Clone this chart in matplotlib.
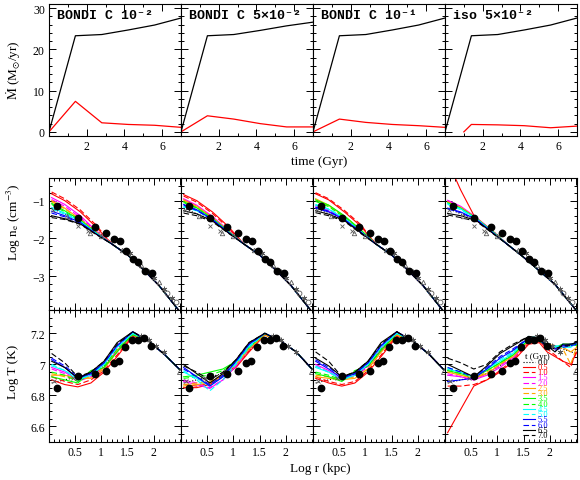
import matplotlib

matplotlib.use("Agg")

import matplotlib.pyplot as plt
from matplotlib.ticker import MultipleLocator

plt.rcParams["font.family"] = ["Liberation Serif", "DejaVu Serif"]
plt.rcParams["mathtext.fontset"] = "stix"

# ---------------------------------------------------------------- data
PANEL_TITLES = ["BONDI C 10⁻²", "BONDI C 5×10⁻²", "BONDI C 10⁻¹", "iso 5×10⁻²"]
SNAP_TIMES = ["0.0", "0.5", "1.0", "1.5", "2.0", "2.5", "3.0", "3.5",
              "4.0", "4.5", "5.0", "5.5", "6.0", "6.5", "7.0"]

# accretion rates (Msun/yr)
MDOT_TIME = [0.0, 1.4, 2.8, 4.2, 5.6, 7.0]
MDOT_TOTAL = [
    [0.0, 23.3, 23.6, 24.7, 25.9, 27.6],
    [0.0, 23.3, 23.6, 24.6, 25.7, 26.6],
    [0.0, 23.3, 23.6, 24.7, 25.9, 27.6],
    [0.0, 23.3, 23.6, 24.7, 25.9, 27.6],
]
MDOT_RED_TIME = [
    [0.0, 1.4, 2.8, 4.2, 5.6, 7.0],
    [0.0, 1.4, 2.8, 4.2, 5.6, 7.0],
    [0.0, 1.4, 2.8, 4.2, 5.6, 7.0],
    [1.0, 1.4, 2.8, 4.2, 5.6, 7.0],
]
MDOT_RED = [
    [0.0, 7.4, 2.2, 1.8, 1.6, 1.1],
    [0.0, 3.9, 3.1, 2.0, 1.2, 1.2],
    [0.0, 3.1, 2.3, 1.8, 1.5, 1.1],
    [0.0, 1.8, 1.7, 1.5, 1.0, 1.4],
]

# density profiles: per-snapshot inner part + common outer part
NE_R_INNER = [0.05, 0.3, 0.6, 0.9]
NE_R_TAIL = [1.2, 1.5, 1.8, 2.1, 2.5]
NE_TAIL = [
    [-2.15, -2.44, -2.83, -3.25, -3.95],
    [-2.15, -2.44, -2.83, -3.25, -3.95],
    [-2.15, -2.44, -2.83, -3.25, -3.95],
    [-2.17, -2.50, -2.86, -3.22, -3.90],
]
NE_INITIAL = [-1.20, -1.35, -1.50, -1.78]
NE_INNER_P1 = [
    [-0.82, -1.00, -1.30, -1.70],
    [-0.77, -0.95, -1.25, -1.65],
    [-0.92, -1.10, -1.40, -1.80],
    [-0.97, -1.15, -1.45, -1.82],
    [-1.00, -1.20, -1.50, -1.83],
    [-1.03, -1.22, -1.50, -1.84],
    [-1.07, -1.27, -1.52, -1.85],
    [-1.10, -1.30, -1.55, -1.86],
    [-1.18, -1.33, -1.55, -1.86],
    [-1.22, -1.36, -1.57, -1.87],
    [-1.28, -1.40, -1.58, -1.88],
    [-1.33, -1.43, -1.60, -1.88],
    [-1.40, -1.48, -1.62, -1.89],
    [-1.45, -1.50, -1.63, -1.90],
]
NE_INNER_P2 = [
    [-0.84, -1.00, -1.30, -1.68],
    [-0.88, -1.04, -1.34, -1.72],
    [-0.95, -1.12, -1.42, -1.78],
    [-0.97, -1.14, -1.44, -1.79],
    [-0.98, -1.15, -1.45, -1.80],
    [-1.00, -1.17, -1.46, -1.80],
    [-1.03, -1.19, -1.47, -1.81],
    [-1.05, -1.20, -1.48, -1.82],
    [-1.17, -1.27, -1.50, -1.83],
    [-1.15, -1.26, -1.50, -1.83],
    [-1.10, -1.24, -1.50, -1.84],
    [-1.12, -1.26, -1.51, -1.84],
    [-1.27, -1.35, -1.54, -1.85],
    [-1.33, -1.40, -1.56, -1.86],
]
NE_INNER_P3 = [
    [-0.82, -0.98, -1.30, -1.66],
    [-0.79, -0.95, -1.26, -1.62],
    [-1.17, -1.28, -1.48, -1.80],
    [-1.12, -1.25, -1.47, -1.80],
    [-0.95, -1.12, -1.42, -1.77],
    [-0.98, -1.14, -1.44, -1.78],
    [-0.98, -1.12, -1.40, -1.76],
    [-1.02, -1.16, -1.44, -1.79],
    [-1.12, -1.23, -1.47, -1.81],
    [-1.10, -1.22, -1.46, -1.81],
    [-1.20, -1.30, -1.50, -1.83],
    [-1.17, -1.28, -1.50, -1.82],
    [-1.27, -1.36, -1.53, -1.84],
    [-1.32, -1.40, -1.55, -1.86],
]
NE_INNER_P4 = [
    [0.05, -0.72, -1.52, -1.82],
    [-1.02, -1.20, -1.47, -1.80],
    [-0.99, -1.15, -1.45, -1.79],
    [-1.00, -1.17, -1.46, -1.80],
    [-1.03, -1.18, -1.46, -1.80],
    [-1.05, -1.20, -1.47, -1.81],
    [-1.06, -1.20, -1.47, -1.81],
    [-1.07, -1.21, -1.48, -1.82],
    [-1.08, -1.22, -1.48, -1.82],
    [-1.10, -1.24, -1.49, -1.83],
    [-1.20, -1.30, -1.50, -1.84],
    [-1.22, -1.32, -1.51, -1.84],
    [-1.34, -1.40, -1.53, -1.85],
    [-1.38, -1.45, -1.55, -1.86],
]
NE_INNER = [NE_INNER_P1, NE_INNER_P2, NE_INNER_P3, NE_INNER_P4]

# temperature profiles
T_R_INNER = [0.05, 0.3, 0.55, 0.8, 1.05, 1.3, 1.6]
T_R_TAIL = [1.9, 2.2, 2.5]
T_TAIL = [
    [7.15, 7.065, 6.965],
    [7.15, 7.08, 6.97],
    [7.15, 7.07, 6.965],
]
T_INITIAL = [6.88, 6.90, 6.92, 6.94, 6.99, 7.09, 7.19]
T_INNER_P1 = [
    [6.90, 6.87, 6.855, 6.88, 6.95, 7.05, 7.18],
    [6.92, 6.89, 6.87, 6.90, 6.96, 7.06, 7.19],
    [6.98, 6.95, 6.90, 6.93, 6.98, 7.09, 7.20],
    [6.97, 6.94, 6.89, 6.92, 6.97, 7.08, 7.19],
    [6.93, 6.93, 6.91, 6.91, 6.97, 7.08, 7.19],
    [6.94, 6.92, 6.90, 6.92, 6.98, 7.09, 7.20],
    [6.92, 6.90, 6.88, 6.95, 6.98, 7.08, 7.20],
    [6.95, 6.93, 6.89, 6.96, 6.99, 7.10, 7.19],
    [6.99, 6.96, 6.90, 6.93, 7.00, 7.11, 7.20],
    [7.00, 6.96, 6.91, 6.93, 7.00, 7.11, 7.20],
    [7.03, 6.98, 6.91, 6.94, 7.01, 7.12, 7.21],
    [7.04, 6.99, 6.92, 6.94, 7.01, 7.12, 7.21],
    [7.02, 6.98, 6.91, 6.95, 7.02, 7.14, 7.21],
    [7.07, 7.01, 6.92, 6.95, 7.02, 7.13, 7.21],
]
T_INNER_P2 = [
    [6.85, 6.85, 6.87, 6.92, 6.98, 7.08, 7.19],
    [6.87, 6.86, 6.88, 6.93, 6.99, 7.09, 7.19],
    [6.89, 6.87, 6.845, 6.90, 6.99, 7.10, 7.20],
    [6.90, 6.88, 6.85, 6.90, 6.99, 7.10, 7.20],
    [6.86, 6.87, 6.88, 6.93, 7.00, 7.10, 7.19],
    [6.87, 6.88, 6.89, 6.93, 7.00, 7.10, 7.19],
    [6.92, 6.93, 6.95, 6.97, 7.02, 7.11, 7.20],
    [6.91, 6.92, 6.93, 6.96, 7.01, 7.11, 7.20],
    [6.95, 6.91, 6.86, 6.92, 7.01, 7.12, 7.20],
    [6.96, 6.90, 6.83, 6.90, 7.00, 7.11, 7.20],
    [6.98, 6.92, 6.86, 6.92, 7.02, 7.13, 7.20],
    [6.97, 6.92, 6.87, 6.93, 7.02, 7.13, 7.20],
    [7.00, 6.94, 6.88, 6.94, 7.03, 7.14, 7.20],
    [6.99, 6.95, 6.90, 6.95, 7.03, 7.14, 7.20],
]
T_INNER_P3 = [
    [6.91, 6.88, 6.86, 6.88, 6.95, 7.05, 7.18],
    [6.92, 6.89, 6.87, 6.89, 6.96, 7.06, 7.19],
    [7.00, 6.96, 6.90, 6.93, 6.99, 7.10, 7.20],
    [6.99, 6.95, 6.90, 6.93, 6.98, 7.09, 7.20],
    [6.92, 6.91, 6.90, 6.91, 6.97, 7.08, 7.19],
    [6.93, 6.92, 6.90, 6.92, 6.97, 7.08, 7.19],
    [6.94, 6.92, 6.89, 6.95, 6.99, 7.09, 7.20],
    [6.95, 6.93, 6.90, 6.96, 6.99, 7.10, 7.20],
    [6.98, 6.95, 6.90, 6.93, 7.00, 7.11, 7.20],
    [6.99, 6.95, 6.91, 6.93, 7.00, 7.11, 7.20],
    [7.02, 6.97, 6.91, 6.94, 7.01, 7.12, 7.21],
    [7.03, 6.98, 6.92, 6.94, 7.01, 7.12, 7.21],
    [7.04, 6.99, 6.92, 6.95, 7.02, 7.14, 7.21],
    [7.08, 7.02, 6.92, 6.95, 7.02, 7.13, 7.21],
]
T_INNER = [T_INNER_P1, T_INNER_P2, T_INNER_P3]

# iso run: full temperature profiles (noisy outskirts)
T_R_ISO = [0.05, 0.3, 0.55, 0.8, 1.05, 1.3, 1.6, 1.8, 1.95, 2.1, 2.25, 2.4, 2.52]
T_INITIAL_ISO = [6.88, 6.90, 6.92, 6.94, 6.99, 7.09, 7.17, 7.16, 7.14, 7.12, 7.10, 7.08, 7.07]
T_ISO = [
    [6.56, 6.71, 6.86, 6.90, 6.95, 7.02, 7.13, 7.14, 7.08, 7.05, 7.02, 7.00, 7.08],
    [6.86, 6.86, 6.87, 6.90, 6.96, 7.03, 7.14, 7.15, 7.10, 7.06, 7.02, 6.98, 7.10],
    [6.93, 6.92, 6.90, 6.93, 6.98, 7.04, 7.15, 7.16, 7.11, 7.10, 7.13, 7.12, 7.13],
    [6.94, 6.92, 6.90, 6.94, 6.99, 7.05, 7.15, 7.15, 7.12, 7.11, 7.12, 7.13, 7.12],
    [6.95, 6.93, 6.91, 6.94, 7.00, 7.05, 7.15, 7.16, 7.12, 7.10, 7.11, 7.08, 7.11],
    [6.96, 6.93, 6.91, 6.95, 7.00, 7.06, 7.16, 7.16, 7.13, 7.12, 7.10, 7.00, 7.12],
    [6.96, 6.94, 6.92, 6.96, 7.01, 7.06, 7.16, 7.15, 7.12, 7.11, 7.13, 7.13, 7.12],
    [6.97, 6.94, 6.92, 6.96, 7.01, 7.07, 7.16, 7.16, 7.13, 7.10, 7.12, 7.12, 7.13],
    [6.97, 6.95, 6.92, 6.97, 7.02, 7.07, 7.17, 7.17, 7.12, 7.12, 7.11, 7.11, 7.14],
    [6.98, 6.95, 6.92, 6.97, 7.03, 7.08, 7.18, 7.17, 7.12, 7.11, 7.13, 7.12, 7.13],
    [6.89, 6.90, 6.91, 6.97, 7.04, 7.09, 7.17, 7.16, 7.11, 7.10, 7.12, 7.13, 7.14],
    [6.98, 6.95, 6.92, 6.98, 7.05, 7.10, 7.17, 7.16, 7.12, 7.09, 7.11, 7.12, 7.13],
    [7.00, 6.96, 6.92, 6.99, 7.07, 7.12, 7.18, 7.17, 7.12, 7.08, 7.13, 7.13, 7.14],
    [7.04, 7.01, 6.97, 7.00, 7.08, 7.13, 7.18, 7.16, 7.11, 7.10, 7.12, 7.12, 7.15],
]

# observed profiles
NE_OBS_R = [0.15, 0.56, 0.87, 1.09, 1.24, 1.35, 1.47, 1.60, 1.70, 1.83, 1.96]
NE_OBS = [-1.14, -1.46, -1.70, -1.86, -2.01, -2.08, -2.33, -2.55, -2.64, -2.86, -2.92]
NE_CROSS_R = [0.08, 0.55, 0.75]
NE_CROSS = [-1.25, -1.68, -1.80]
NE_TRI_R = [0.35, 0.78, 1.00, 1.40, 1.75, 2.10]
NE_TRI = [-1.42, -1.85, -1.93, -2.30, -2.72, -3.15]
NE_STAR_R = [1.55, 1.90, 2.00, 2.20, 2.35]
NE_STAR = [-2.40, -2.90, -3.05, -3.35, -3.58]
NE_OPEN_R = [2.25, 2.42]
NE_OPEN = [-3.45, -3.70]

T_OBS_R = [0.16, 0.56, 0.87, 1.08, 1.24, 1.33, 1.46, 1.59, 1.70, 1.82, 1.95]
T_OBS = [6.85, 6.925, 6.94, 6.96, 7.01, 7.02, 7.11, 7.16, 7.16, 7.17, 7.12]
T_CROSS_R = [0.10, 0.45, 0.90]
T_CROSS = [6.89, 6.91, 6.95]
T_STAR_R = [1.45, 1.60, 1.75, 1.90, 2.05, 2.20]
T_STAR = [7.12, 7.16, 7.18, 7.16, 7.12, 7.08]
T_TRI_R = [2.50]
T_TRI = [6.955]

# ---------------------------------------------------------------- styles
CURVE_COLORS = ["#ff0000", "#ff0000", "#ff00ff", "#ff00ff", "#ffa500", "#ffa500",
                "#00ff00", "#00ff00", "#00ffff", "#00ffff", "#0000ff", "#0000ff",
                "#000000", "#000000"]
CURVE_DASHED = [False, True] * 7

FIG_W, FIG_H = 580, 481
LEFT_PX, PANEL_W = 49, 132
ROW_TOP_PX = [5, 179, 311]
PANEL_H = 132


def panel_axes(figure, row, col):
    left = (LEFT_PX + col * PANEL_W) / FIG_W
    bottom = 1 - (ROW_TOP_PX[row] + PANEL_H) / FIG_H
    return figure.add_axes([left, bottom, PANEL_W / FIG_W, PANEL_H / FIG_H])


def style_axis(axis, show_left):
    axis.tick_params(which="both", direction="in", top=True, right=True,
                     labelsize=8.5, width=0.7, pad=3)
    axis.tick_params(which="major", length=5)
    axis.tick_params(which="minor", length=2.5)
    axis.tick_params(labelleft=show_left)
    for spine in axis.spines.values():
        spine.set_linewidth(0.8)


def draw_curve(axis, r, values, index):
    axis.plot(r, values, color=CURVE_COLORS[index], lw=0.8,
              ls=(0, (5, 2.5)) if CURVE_DASHED[index] else "-")


def draw_obs(axis, ne_panel):
    if ne_panel:
        sets = [(NE_CROSS_R, NE_CROSS, "x", 3.0), (NE_TRI_R, NE_TRI, "^", 3.2),
                (NE_STAR_R, NE_STAR, (6, 2, 0), 4.0), (NE_OPEN_R, NE_OPEN, "o", 3.5)]
        obs = (NE_OBS_R, NE_OBS)
    else:
        sets = [(T_CROSS_R, T_CROSS, "x", 3.0), (T_STAR_R, T_STAR, (6, 2, 0), 4.0),
                (T_TRI_R, T_TRI, "^", 4.0)]
        obs = (T_OBS_R, T_OBS)
    for r, v, marker, size in sets:
        axis.plot(r, v, ls="none", marker=marker, ms=size, mfc="none",
                  mec="0.35", mew=0.6)
    axis.plot(*obs, ls="none", marker="o", ms=4.6, color="black")


figure = plt.figure(figsize=(FIG_W / 100, FIG_H / 100), dpi=100)

for col in range(4):
    # accretion rate
    axis = panel_axes(figure, 0, col)
    axis.plot(MDOT_TIME, MDOT_TOTAL[col], color="black", lw=0.9)
    axis.plot(MDOT_RED_TIME[col], MDOT_RED[col], color="#ff0000", lw=0.9)
    axis.set_xlim(0, 7)
    axis.set_ylim(-1, 31)
    axis.set_xticks([2, 4, 6])
    axis.set_yticks([0, 10, 20, 30])
    axis.xaxis.set_minor_locator(MultipleLocator(1))
    axis.yaxis.set_minor_locator(MultipleLocator(2))
    style_axis(axis, col == 0)
    axis.text(0.06, 0.915, PANEL_TITLES[col], transform=axis.transAxes,
              family=["Liberation Mono", "DejaVu Sans Mono"], fontsize=9.5,
              fontweight="bold", va="center", ha="left")

    # density
    axis = panel_axes(figure, 1, col)
    axis.plot(NE_R_INNER + NE_R_TAIL, NE_INITIAL + NE_TAIL[col],
              color="black", lw=0.8, ls=":")
    for index, inner in enumerate(NE_INNER[col]):
        draw_curve(axis, NE_R_INNER + NE_R_TAIL, inner + NE_TAIL[col], index)
    draw_obs(axis, True)
    axis.set_xlim(0, 2.52)
    axis.set_ylim(-3.9, -0.4)
    axis.set_yticks([-3, -2, -1])
    axis.set_yticklabels(["\u22123", "\u22122", "\u22121"])
    axis.xaxis.set_major_locator(MultipleLocator(0.5))
    axis.xaxis.set_minor_locator(MultipleLocator(0.1))
    axis.yaxis.set_minor_locator(MultipleLocator(0.2))
    style_axis(axis, col == 0)
    axis.tick_params(labelbottom=False)

    # temperature
    axis = panel_axes(figure, 2, col)
    if col < 3:
        axis.plot(T_R_INNER + T_R_TAIL, T_INITIAL + T_TAIL[col],
                  color="black", lw=0.8, ls=":")
        for index, inner in enumerate(T_INNER[col]):
            draw_curve(axis, T_R_INNER + T_R_TAIL, inner + T_TAIL[col], index)
    else:
        axis.plot(T_R_ISO, T_INITIAL_ISO, color="black", lw=0.8, ls=":")
        for index, values in enumerate(T_ISO):
            draw_curve(axis, T_R_ISO, values, index)
    draw_obs(axis, False)
    axis.set_xlim(0, 2.52)
    axis.set_ylim(6.5, 7.35)
    axis.set_xticks([0.5, 1, 1.5, 2])
    axis.set_xticklabels(["0.5", "1", "1.5", "2"])
    axis.set_yticks([6.6, 6.8, 7.0, 7.2])
    axis.set_yticklabels(["6.6", "6.8", "7", "7.2"])
    axis.xaxis.set_minor_locator(MultipleLocator(0.1))
    axis.yaxis.set_minor_locator(MultipleLocator(0.05))
    style_axis(axis, col == 0)

    if col == 3:
        # snapshot key
        axis.text(0.70, 0.65, "t (Gyr)", transform=axis.transAxes,
                  fontsize=6.5, ha="center", va="center")
        step = 0.0397
        for index, label in enumerate(SNAP_TIMES):
            y = 0.608 - index * step
            if index == 0:
                color, ls = "black", ":"
            else:
                color = CURVE_COLORS[index - 1]
                ls = (0, (5, 2.5)) if CURVE_DASHED[index - 1] else "-"
            axis.plot([0.59, 0.68], [y, y], transform=axis.transAxes,
                      color=color, ls=ls, lw=0.8)
            axis.text(0.70, y, label, transform=axis.transAxes, color=color,
                      fontsize=6, ha="left", va="center")

figure.text(0.024, 0.854, r"$\dot{\rm M}$ (M$_{\odot}$/yr)", rotation=90,
            ha="center", va="center", fontsize=9.5)
figure.text(0.551, 0.663, "time (Gyr)", ha="center", va="center", fontsize=9.5)
figure.text(0.024, 0.539, r"Log n$_{\rm e}$ (cm$^{-3}$)", rotation=90,
            ha="center", va="center", fontsize=9.5)
figure.text(0.022, 0.227, "Log T (K)", rotation=90,
            ha="center", va="center", fontsize=9.5)
figure.text(0.552, 0.025, "Log r (kpc)", ha="center", va="center", fontsize=9.5)

figure.savefig("out.png", dpi=100)
plt.close(figure)
